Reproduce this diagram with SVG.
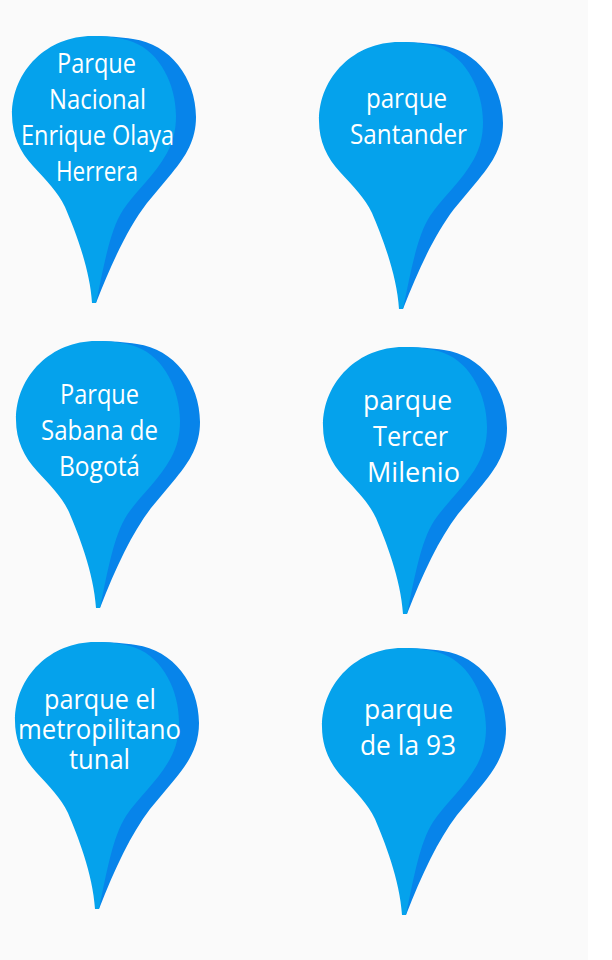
<svg xmlns="http://www.w3.org/2000/svg" xmlns:xlink="http://www.w3.org/1999/xlink" width="612" height="960" viewBox="0 0 612 960">
<style>
text{font-family:"Open Sans","Noto Sans","Liberation Sans",sans-serif;font-size:27px;fill:#fff;text-anchor:start}
.d{fill:#0784ea}.l{fill:#05a2ec}
</style>
<defs>
<g id="pin">
<path class="d" d="M92 36C108 36 120 37 133 39C170 44 196 78 196 117C196 140 186 156 172 173L147 203C128 228 112 262 96 303L92 303Z"/>
<path class="l" d="M12 115C12 135 20 152 33 166C46 180 58 192 65 207C74 228 90 268 92 303L96 303C104 265 110 230 123 210C135 192 155 175 167 153C173 142 176 130 176 116C176 85 160 52 133 42C120 37 105 36 92 36C48 36 12 70 12 115Z"/>
</g>
</defs>
<rect width="588" height="960" fill="#fafafa"/>
<g id="connectors"/>
<g id="pin1"><use xlink:href="#pin" href="#pin"/>
<text x="57" y="73" textLength="79" lengthAdjust="spacingAndGlyphs">Parque</text>
<text x="49" y="109" textLength="97" lengthAdjust="spacingAndGlyphs">Nacional</text>
<text x="21" y="145" textLength="153" lengthAdjust="spacingAndGlyphs">Enrique Olaya</text>
<text x="56" y="181" textLength="82" lengthAdjust="spacingAndGlyphs">Herrera</text></g>
<g id="pin2"><use xlink:href="#pin" href="#pin" x="307" y="6"/>
<text x="366" y="108" textLength="81" lengthAdjust="spacingAndGlyphs">parque</text>
<text x="350" y="144" textLength="117" lengthAdjust="spacingAndGlyphs">Santander</text></g>
<g id="pin3"><use xlink:href="#pin" href="#pin" x="4" y="305"/>
<text x="60" y="404" textLength="79" lengthAdjust="spacingAndGlyphs">Parque</text>
<text x="41" y="440" textLength="117" lengthAdjust="spacingAndGlyphs">Sabana de</text>
<text x="59" y="476" textLength="81" lengthAdjust="spacingAndGlyphs">Bogotá</text></g>
<g id="pin4"><use xlink:href="#pin" href="#pin" x="311" y="311"/>
<text x="363" y="410" textLength="89" lengthAdjust="spacingAndGlyphs">parque</text>
<text x="373" y="446" textLength="75" lengthAdjust="spacingAndGlyphs">Tercer</text>
<text x="367" y="482" textLength="93" lengthAdjust="spacingAndGlyphs">Milenio</text></g>
<g id="pin5"><use xlink:href="#pin" href="#pin" x="3" y="606"/>
<text x="44" y="709" textLength="112" lengthAdjust="spacingAndGlyphs">parque el</text>
<text x="18" y="739" textLength="163" lengthAdjust="spacingAndGlyphs">metropilitano</text>
<text x="69" y="769" textLength="61" lengthAdjust="spacingAndGlyphs">tunal</text></g>
<g id="pin6"><use xlink:href="#pin" href="#pin" x="310" y="612"/>
<text x="364" y="719" textLength="89" lengthAdjust="spacingAndGlyphs">parque</text>
<text x="360" y="755" textLength="96" lengthAdjust="spacingAndGlyphs">de la 93</text></g>
</svg>
